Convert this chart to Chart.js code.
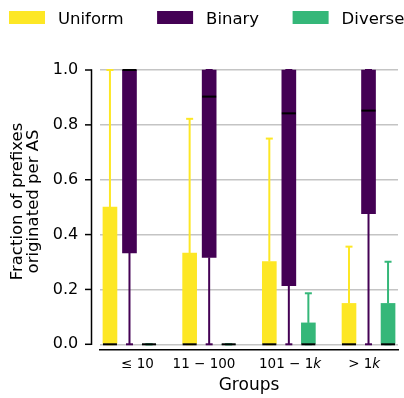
<!DOCTYPE html>
<html><head><meta charset="utf-8">
<script src="https://cdn.jsdelivr.net/npm/chart.js@4/dist/chart.umd.min.js"></script>
<style>html,body{margin:0;padding:0;background:#fff}canvas{display:block}</style>
</head><body>
<canvas id="c" width="404" height="398"></canvas>
<script>
// ---- data ----
const categories = ['≤ 10', '11 − 100', '101 − 1k', '> 1k'];
const groupTickPos = [0.10, 0.935, 2.015, 2.945];
const yTicks = [0, 0.2, 0.4, 0.6, 0.8, 1.0];
const seriesNames = ['Uniform', 'Binary', 'Diverse'];

const uniformQ1     = [0, 0, 0, 0];
const uniformQ3     = [0.50, 0.333, 0.302, 0.149];
const uniformMedian = [0, 0, 0, 0];
const uniformLow    = [0, 0, 0, 0];
const uniformHigh   = [1.0, 0.822, 0.75, 0.356];

const binaryQ1      = [0.333, 0.317, 0.214, 0.476];
const binaryQ3      = [1.0, 1.0, 1.0, 1.0];
const binaryMedian  = [1.0, 0.903, 0.842, 0.852];
const binaryLow     = [0, 0, 0, 0];
const binaryHigh    = [1.0, 1.0, 1.0, 1.0];

const diverseQ1     = [0, 0, 0, 0];
const diverseQ3     = [0, 0, 0.078, 0.149];
const diverseMedian = [0, 0, 0, 0];
const diverseLow    = [0, 0, 0, 0];
const diverseHigh   = [0, 0, 0.186, 0.301];

// ---- styling / layout ----
const colors = ['#fde725', '#440154', '#35b779'];
const groupOffset = 0.245;
const FONT = 'DejaVu Sans';

const stats = [
  {q1: uniformQ1, q3: uniformQ3, med: uniformMedian, lo: uniformLow, hi: uniformHigh},
  {q1: binaryQ1, q3: binaryQ3, med: binaryMedian, lo: binaryLow, hi: binaryHigh},
  {q1: diverseQ1, q3: diverseQ3, med: diverseMedian, lo: diverseLow, hi: diverseHigh}
];

const datasets = seriesNames.map((name, s) => ({
  label: name,
  data: categories.map((c, i) => ({x: i + (s - 1) * groupOffset, y: [stats[s].q1[i], stats[s].q3[i]]})),
  backgroundColor: colors[s],
  borderWidth: 0,
  barThickness: 14,
  grouped: false
}));

const boxDecor = {
  id: 'boxDecor',
  afterDatasetsDraw(chart) {
    const ctx = chart.ctx, ys = chart.scales.y;
    const line = (x1, y1, x2, y2) => { ctx.beginPath(); ctx.moveTo(x1, y1); ctx.lineTo(x2, y2); ctx.stroke(); };
    chart.data.datasets.forEach((ds, di) => {
      const meta = chart.getDatasetMeta(di);
      const st = stats[di];
      meta.data.forEach((bar, i) => {
        const cx = bar.x, w = bar.width;
        const q1 = ys.getPixelForValue(st.q1[i]), q3 = ys.getPixelForValue(st.q3[i]);
        const lo = ys.getPixelForValue(st.lo[i]), hi = ys.getPixelForValue(st.hi[i]);
        const md = ys.getPixelForValue(st.med[i]);
        ctx.save();
        ctx.lineCap = 'butt';
        ctx.strokeStyle = ds.backgroundColor;
        ctx.lineWidth = 2;
        if (hi !== q3) line(cx, q3, cx, hi);
        if (lo !== q1) line(cx, q1, cx, lo);
        line(cx - w / 4, hi, cx + w / 4, hi);
        line(cx - w / 4, lo, cx + w / 4, lo);
        ctx.strokeStyle = '#000';
        line(cx - w / 2, md, cx + w / 2, md);
        ctx.restore();
      });
    });
  },
  afterDraw(chart) {
    const ctx = chart.ctx, ys = chart.scales.y, xs = chart.scales.x;
    ctx.save();
    // left spine (trimmed) with tick marks
    ctx.strokeStyle = '#000';
    ctx.lineWidth = 1.5;
    const sx = chart.chartArea.left - 8.5;
    const y0 = ys.getPixelForValue(yTicks[0]), y1 = ys.getPixelForValue(yTicks[yTicks.length - 1]);
    ctx.beginPath(); ctx.moveTo(sx, y0 + 0.75); ctx.lineTo(sx, y1 - 0.75); ctx.stroke();
    yTicks.forEach(v => {
      const p = ys.getPixelForValue(v);
      ctx.beginPath(); ctx.moveTo(sx - 6.5, p); ctx.lineTo(sx, p); ctx.stroke();
    });
    // x tick labels (mathtext-like: italic k)
    ctx.fillStyle = '#000';
    ctx.textBaseline = 'alphabetic';
    const size = 13.5;
    xs.ticks.forEach((t, i) => {
      const label = categories[i];
      const px = xs.getPixelForValue(t.value);
      const chars = [...label];
      let total = 0;
      const widths = chars.map(ch => {
        ctx.font = (ch === 'k' ? 'italic ' : '') + size + 'px "' + FONT + '"';
        const w = ctx.measureText(ch).width; total += w; return w;
      });
      let x = px - total / 2;
      chars.forEach((ch, k) => {
        ctx.font = (ch === 'k' ? 'italic ' : '') + size + 'px "' + FONT + '"';
        ctx.fillText(ch, x, xs.top + 18);
        x += widths[k];
      });
    });
    // legend
    ctx.font = '16.5px "' + FONT + '"';
    let lx = 9;
    chart.data.datasets.forEach(ds => {
      ctx.fillStyle = ds.backgroundColor;
      ctx.fillRect(lx, 11, 36, 13);
      ctx.fillStyle = '#000';
      ctx.fillText(ds.label, lx + 49, 24);
      lx += 49 + ctx.measureText(ds.label).width + 33.5;
    });
    ctx.restore();
  }
};

new Chart(document.getElementById('c'), {
  type: 'bar',
  data: {datasets},
  plugins: [boxDecor],
  options: {
    responsive: false,
    animation: false,
    layout: {padding: {top: 53, right: 6, left: 0, bottom: 0}},
    plugins: {legend: {display: false}, tooltip: {enabled: false}},
    scales: {
      x: {
        type: 'linear', min: -0.37, max: 3.37, offset: false,
        grid: {display: false, offset: false},
        border: {display: true, color: '#000', width: 1.5},
        ticks: {display: false},
        afterBuildTicks: s => { s.ticks = groupTickPos.map(v => ({value: v})); },
        afterFit: s => { s.height = 48; },
        title: {display: true, text: 'Groups', color: '#000',
          font: {family: FONT, size: 17, lineHeight: 1.2}, padding: {top: 0, bottom: 2}}
      },
      y: {
        min: -0.0208, max: 1.062,
        afterBuildTicks: s => { s.ticks = yTicks.map(v => ({value: v})); },
        afterFit: s => { s.width = 100; },
        grid: {color: '#c4c4c4', lineWidth: 1.5, drawTicks: false},
        border: {display: false},
        ticks: {padding: 21.7, color: '#000', font: {family: FONT, size: 16},
          callback: v => Number(v).toFixed(1)},
        title: {display: true, text: ['Fraction of prefixes', 'originated per AS'], color: '#000',
          font: {family: FONT, size: 16.5, lineHeight: 1}, padding: {top: 9.4, bottom: 0}}
      }
    }
  }
});
</script>
</body></html>
